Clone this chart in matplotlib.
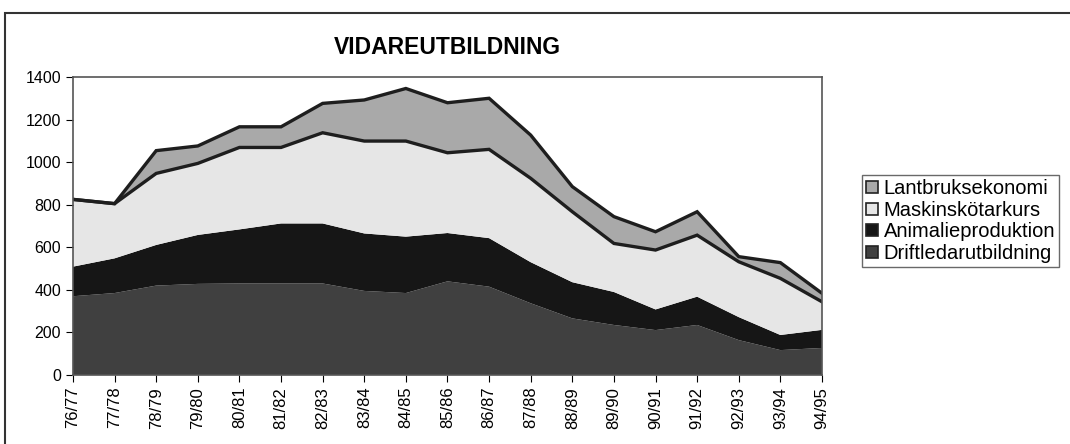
import matplotlib.pyplot as plt
import numpy as np
from matplotlib.patches import Patch, Rectangle

plt.rcParams['font.family'] = ['Liberation Sans', 'DejaVu Sans']

# Data
years = ["76/77", "77/78", "78/79", "79/80", "80/81", "81/82", "82/83", "83/84",
         "84/85", "85/86", "86/87", "87/88", "88/89", "89/90", "90/91", "91/92",
         "92/93", "93/94", "94/95"]
drift = [370, 385, 420, 428, 430, 430, 430, 395, 385, 440, 415, 337, 266, 235, 211, 235, 164, 117, 127]
animal = [139, 163, 191, 230, 254, 282, 282, 270, 265, 227, 228, 193, 170, 155, 97, 133, 108, 71, 85]
maskin = [316, 257, 336, 336, 385, 357, 426, 434, 449, 377, 417, 394, 331, 228, 279, 289, 260, 266, 132]
lantbruk = [0, 0, 107, 82, 97, 97, 138, 193, 247, 235, 240, 203, 118, 126, 86, 110, 24, 74, 40]

labels = ["Driftledarutbildning", "Animalieproduktion", "Maskinskötarkurs", "Lantbruksekonomi"]
colors = ["#404040", "#161616", "#e6e6e6", "#a9a9a9"]

x = np.arange(len(years))

fig = plt.figure(figsize=(10.7, 4.44), dpi=100)
ax = fig.add_axes([0.0682, 0.1554, 0.7, 0.6712])

ax.stackplot(x, drift, animal, maskin, lantbruk, colors=colors, edgecolor="none")

# outlines on the upper two layers
cum3 = np.array(drift) + np.array(animal) + np.array(maskin)
cum4 = cum3 + np.array(lantbruk)
ax.plot(x, cum3, color="#1e1e1e", lw=2.4, solid_joinstyle="miter")
ax.plot(x, cum4, color="#1e1e1e", lw=2.4, solid_joinstyle="miter")

ax.set_xlim(0, len(years) - 1)
ax.set_ylim(0, 1400)
ax.set_yticks(np.arange(0, 1401, 200))
ax.set_xticks(x)
ax.set_xticklabels(years, rotation=90, fontsize=12)
ax.tick_params(axis="y", labelsize=11.5, length=5, direction="out")
ax.tick_params(axis="x", length=5, direction="out")
for s in ax.spines.values():
    s.set_color("#555555")
    s.set_linewidth(1.2)

fig.text(0.418, 0.893, "VIDAREUTBILDNING", ha="center", va="center",
         fontsize=16.5, fontweight="bold")

handles = [Patch(facecolor=c, edgecolor="#222222", linewidth=1.2) for c in colors]
leg = fig.legend(handles[::-1], labels[::-1], loc="center left",
                 bbox_to_anchor=(0.806, 0.502), fontsize=14.5, frameon=True,
                 fancybox=False, handlelength=0.55, handleheight=0.55,
                 handletextpad=0.3, labelspacing=0.12, borderpad=0.2,
                 borderaxespad=0)
leg.get_frame().set_edgecolor("#444444")
leg.get_frame().set_linewidth(1.0)

# outer frame of the page
fig.add_artist(Rectangle((0.005, -0.05), 1.1, 1.02, transform=fig.transFigure,
                         fill=False, edgecolor="#333333", lw=1.5))

fig.savefig("out.png", dpi=100)
